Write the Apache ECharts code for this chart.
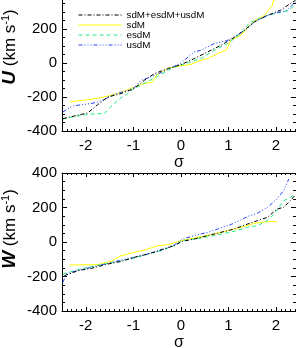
<!DOCTYPE html>
<html><head><meta charset="utf-8">
<script src="https://cdn.jsdelivr.net/npm/echarts@6/dist/echarts.min.js"></script>
<style>html,body{margin:0;padding:0;background:#fff}#c{width:296px;height:348px}</style>
</head><body><div id="c"></div>
<script>
const seriesNames = ['sdM+esdM+usdM', 'sdM', 'esdM', 'usdM'];
const xTicks = [-2, -1, 0, 1, 2];
const yTicks = [-400, -200, 0, 200, 400];
const yTitles = ['U', 'W'];

// U panel: [sigma, U km/s]
const uAll = [[-2.48,-327],[-1.96,-294],[-1.75,-245],[-1.54,-200],[-1.26,-180],[-0.98,-150],[-0.77,-102],[-0.56,-63],[-0.28,-33],[0,-10],[0.28,26],[0.56,65],[0.84,104],[1.12,150],[1.33,192],[1.54,241],[1.82,280],[2.09,310],[2.3,349],[2.41,369]];
const uSdM = [[-2.34,-229],[-1.96,-216],[-1.68,-204],[-1.47,-190],[-1.19,-165],[-0.98,-141],[-0.77,-121],[-0.59,-111],[-0.52,-72],[-0.28,-33],[0,-16],[0.21,-8],[0.42,16],[0.56,26],[0.77,55],[0.96,78],[1.05,133],[1.26,163],[1.54,247],[1.75,280],[1.92,339],[2.0,410]];
const uEsdM = [[-2.48,-330],[-2.2,-313],[-1.89,-300],[-1.6,-297],[-1.54,-275],[-1.33,-219],[-1.12,-180],[-0.98,-150],[-0.49,-78],[-0.14,-24],[0.42,26],[0.7,75],[0.98,114],[1.26,173],[1.43,232],[1.54,249],[1.82,280],[1.96,290],[2.09,300],[2.23,305],[2.41,340]];
const uUsdM = [[-2.48,-288],[-2.3,-255],[-2.09,-245],[-1.89,-239],[-1.75,-229],[-1.47,-196],[-1.4,-184],[-1.12,-161],[-0.98,-145],[-0.84,-102],[-0.63,-82],[-0.28,-39],[0,0],[0.28,65],[0.42,75],[0.7,114],[0.98,133],[1.12,153],[1.4,202],[1.54,241],[1.82,280],[2.09,300],[2.23,310],[2.41,359]];

// W panel: [sigma, W km/s]
const wAll = [[-2.45,-195],[-2.16,-166],[-1.89,-153],[-1.54,-128],[-1.26,-113],[-0.98,-89],[-0.7,-70],[-0.42,-46],[-0.14,-21],[0.03,4],[0.28,17],[0.56,37],[0.84,56],[1.12,75],[1.4,104],[1.61,124],[1.82,143],[2.02,191],[2.16,201],[2.3,240],[2.41,274]];
const wSdM = [[-2.34,-133],[-1.75,-131],[-1.47,-112],[-1.26,-80],[-0.98,-60],[-0.77,-47],[-0.49,-22],[-0.28,-16],[0,8],[0.28,23],[0.7,46],[0.98,66],[1.26,85],[1.54,108],[1.82,118],[2.02,118]];
const wEsdM = [[-2.48,-186],[-2.23,-166],[-1.96,-147],[-1.54,-124],[-1.26,-109],[-0.98,-93],[-0.7,-70],[-0.42,-51],[-0.14,-22],[0.03,8],[0.28,17],[0.7,37],[1.12,62],[1.4,85],[1.61,95],[1.82,124],[1.96,162],[2.06,201],[2.16,240],[2.3,259],[2.41,278]];
const wUsdM = [[-2.48,-234],[-2.41,-186],[-2.16,-163],[-1.89,-147],[-1.54,-124],[-1.26,-105],[-0.98,-89],[-0.7,-70],[-0.42,-46],[-0.14,-17],[0.03,17],[0.28,37],[0.56,56],[0.84,81],[1.05,101],[1.26,128],[1.4,148],[1.61,167],[1.82,201],[2.02,249],[2.16,298],[2.27,365]];

const FONT = 'Liberation Sans';
const colors = ['#000000', '#ffff00', '#22ee80', '#2244ff'];
const dashes = [[4,2,1,2], 'solid', [4,3], [4,2,1,2,1,2,1,2]];

function xAxesFor(g) {
  const base = { type: 'value', gridIndex: g, min: -2.5, max: 2.42, splitLine: { show: false } };
  return [
    Object.assign({}, base, {
      position: 'bottom', splitNumber: 5,
      axisLine: { show: true, onZero: false, lineStyle: { color: '#000', width: 1 } },
      axisTick: { inside: true, length: 4, lineStyle: { color: '#000' } },
      axisLabel: { color: '#000', fontSize: 15, fontFamily: FONT, margin: 7,
        formatter: v => xTicks.indexOf(Math.round(v * 1000) / 1000) >= 0 ? String(Math.round(v)) : '' },
      name: 'σ', nameLocation: 'middle', nameGap: 24,
      nameTextStyle: { color: '#000', fontSize: 16, fontFamily: FONT }
    }),
    Object.assign({}, base, {
      position: 'bottom', interval: 0.1,
      axisLine: { show: false, onZero: false },
      axisTick: { inside: true, length: 2, lineStyle: { color: '#000' } },
      axisLabel: { show: false }
    }),
    Object.assign({}, base, {
      position: 'top', splitNumber: 5,
      axisLine: { show: true, onZero: false, lineStyle: { color: '#000', width: 1 } },
      axisTick: { inside: true, length: 4, lineStyle: { color: '#000' } },
      axisLabel: { show: false }
    }),
    Object.assign({}, base, {
      position: 'top', interval: 0.1,
      axisLine: { show: false, onZero: false },
      axisTick: { inside: true, length: 2, lineStyle: { color: '#000' } },
      axisLabel: { show: false }
    })
  ];
}

function yAxesFor(g) {
  const base = {
    type: 'value', gridIndex: g, min: yTicks[0], max: yTicks[yTicks.length - 1], interval: 200,
    splitLine: { show: false },
    axisLine: { show: true, onZero: false, lineStyle: { color: '#000', width: 1 } },
    axisTick: { inside: true, length: 5, lineStyle: { color: '#000' } },
    minorTick: { show: true, splitNumber: 4, length: 3, lineStyle: { color: '#000' } }
  };
  return [
    Object.assign({}, base, {
      position: 'left',
      axisLabel: { color: '#000', fontSize: 15, fontFamily: FONT, margin: 5 }
    }),
    Object.assign({}, base, { position: 'right', axisLabel: { show: false } })
  ];
}

const titleRich = {
  b: { fontSize: 19, fontWeight: 'bold', fontStyle: 'italic', fontFamily: FONT, fill: '#000' },
  t: { fontSize: 17, fontFamily: FONT, fill: '#000' },
  s: { fontSize: 11, fontFamily: FONT, fill: '#000', verticalAlign: 'top' }
};
const titleCenters = [[10, 47], [10, 229]];
const graphics = yTitles.map((L, i) => ({
  type: 'text', x: titleCenters[i][0], y: titleCenters[i][1], rotation: Math.PI / 2,
  style: {
    text: '{b|' + L + '}{t| (km s}{s|-1}{t|)}', rich: titleRich,
    align: 'center', verticalAlign: 'middle', textAlign: 'center', textVerticalAlign: 'middle', fill: '#000'
  }
}));

const panels = [uAll, uSdM, uEsdM, uUsdM];
const panelsW = [wAll, wSdM, wEsdM, wUsdM];
const series = [];
[panels, panelsW].forEach((set, g) => {
  set.forEach((d, i) => {
    series.push({
      name: seriesNames[i], type: 'line', data: d,
      xAxisIndex: g * 4, yAxisIndex: g * 2,
      symbol: 'none', clip: true,
      lineStyle: { color: colors[i], width: 1, type: dashes[i] },
      itemStyle: { color: colors[i] },
      z: i === 0 ? 5 : 3
    });
  });
});

const chart = echarts.init(document.getElementById('c'), null, { renderer: 'canvas' });
chart.setOption({
  animation: false,
  backgroundColor: '#fff',
  grid: [
    { left: 62, top: -5, width: 234, height: 136, outerBoundsMode: 'none', containLabel: false },
    { left: 62, top: 173, width: 234, height: 138, outerBoundsMode: 'none', containLabel: false }
  ],
  legend: {
    orient: 'vertical', left: 73, top: 5,
    itemWidth: 43, itemHeight: 8, itemGap: 0,
    itemStyle: { opacity: 0 },
    lineStyle: { width: 1 },
    textStyle: { fontSize: 9.8, lineHeight: 8.3, fontFamily: FONT, color: '#000' },
    data: seriesNames
  },
  graphic: graphics,
  xAxis: xAxesFor(0).concat(xAxesFor(1)),
  yAxis: yAxesFor(0).concat(yAxesFor(1)),
  series: series
});
</script></body></html>
